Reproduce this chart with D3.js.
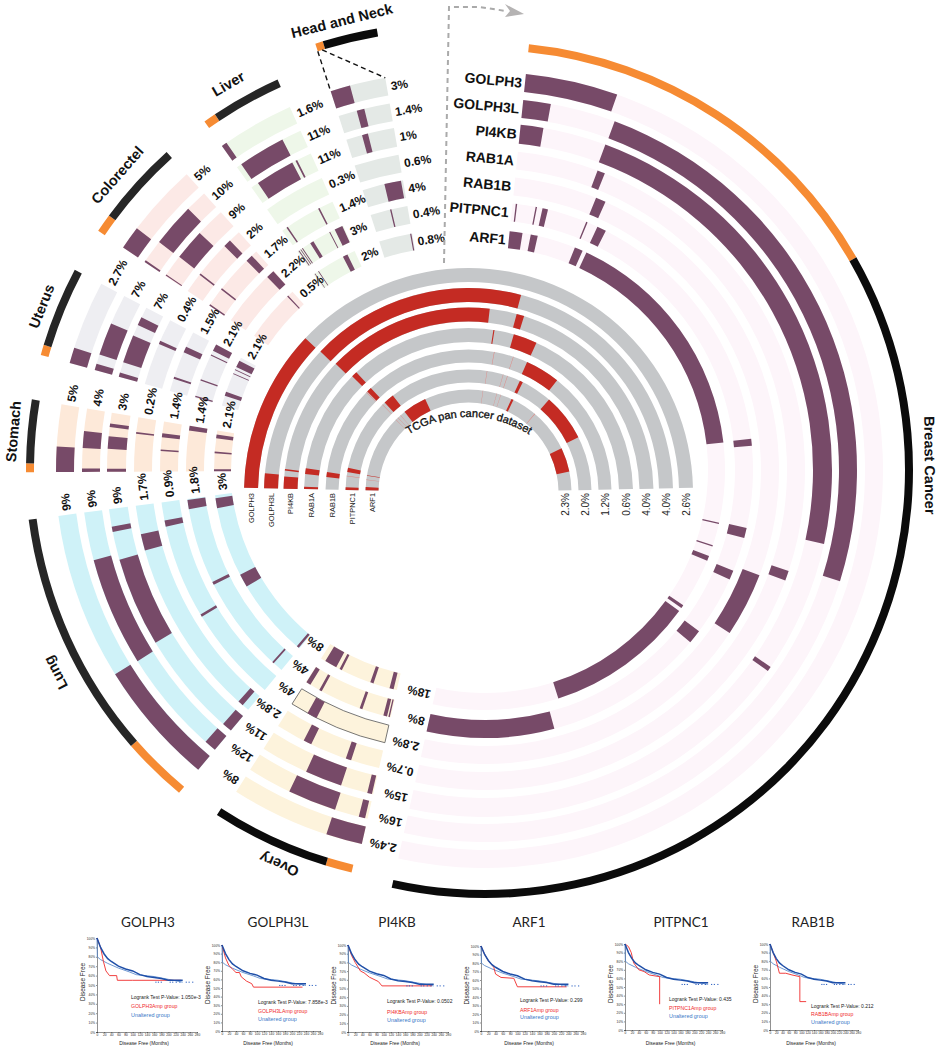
<!DOCTYPE html>
<html>
<head>
<meta charset="utf-8">
<title>Pan cancer amplification</title>
<script src="https://cdn.jsdelivr.net/npm/d3@7"></script>
<style>
  html, body { margin: 0; padding: 0; background: #fff; }
  text { font-family: "Liberation Sans", Arial, sans-serif; }
</style>
</head>
<body>
<div id="chart"></div>
<script>
const geneNames = ["GOLPH3", "GOLPH3L", "PI4KB", "RAB1A", "RAB1B", "PITPNC1", "ARF1"];
const cancerNames = ["Breast Cancer", "Overy", "Lung", "Stomach", "Uterus", "Colorectel", "Liver", "Head and Neck"];

// length of every cancer along its ring, and how much of that is the orange part
const sectorSpan = [186.7, 19.7, 42.7, 9.8, 12.3, 14, 11.3, 8.1];
const alteredShare = [54.3, 3.6, 9, 1.2, 1.4, 2.5, 1.7, 1];

// percent labels, outer track to inner track
const breastPct = ["2.4%", "16%", "15%", "0.7%", "2.8%", "8%", "18%"];
const ovaryPct = ["8%", "12%", "11%", "2.8%", "4%", "4%", "8%"];
const lungPct = ["9%", "9%", "9%", "1.7%", "0.9%", "1.8%", "3%"];
const stomachPct = ["5%", "4%", "3%", "0.2%", "1.4%", "1.4%", "2.1%"];
const uterusPct = ["2.7%", "7%", "7%", "0.4%", "1.5%", "2.1%", "2.1%"];
const colorectalPct = ["5%", "10%", "9%", "2%", "1.7%", "2.2%", "0.5%"];
const liverPct = ["1.6%", "11%", "11%", "0.3%", "1.4%", "3%", "2%"];
const headNeckPct = ["3%", "1.4%", "1%", "0.6%", "4%", "0.4%", "0.8%"];

// altered stretches [from, to] along each cancer, outer track to inner track
const breastSegments = [
  [[0, 13.5]],
  [[0, 4.3], [14.5, 101.5]],
  [[0, 3.8], [14.4, 96.4], [118.7, 119.5]],
  [[14.7, 16.1], [102.5, 104.3]],
  [[16.3, 18.3], [105.1, 117.8]],
  [[0.7, 1], [5, 5.3], [6.5, 7.7], [16.3, 16.6], [18.9, 20.9], [77.4, 78.9], [96.6, 98.8], [106.2, 108.2], [121.1, 124.1], [159.1, 186.7]],
  [[0, 3.1], [5.1, 6.8], [16.1, 18.1], [19.1, 77.5], [96.8, 97.1], [102.4, 102.7], [105.1, 106.3], [118.4, 119.2], [120.1, 156.3]]
];
const ovarySegments = [
  [[0, 5.3]],
  [[0.4, 1.4], [5.2, 12.8]],
  [[0.2, 1], [5.5, 11.7]],
  [[5.2, 6.2], [12.9, 14.4]],
  [[14.2, 16.2]],
  [[0.2, 0.5], [0.8, 1.6], [6.3, 6.9], [15.8, 16.4], [18.6, 19.6]],
  [[0.8, 1.8], [5.8, 6.6], [14, 14.6], [15.5, 18.5]]
];
const lungSegments = [
  [[0, 18.3]],
  [[0, 1.9], [18.2, 35.2]],
  [[0, 1.7], [19.2, 34.2], [38.9, 39.8]],
  [[1.3, 2.3], [34.5, 37.5]],
  [[18.9, 19.4], [37.9, 39.1]],
  [[2.2, 2.6], [23.4, 24.1], [40.5, 42.5]],
  [[0.2, 0.8], [19.5, 22.7], [39.6, 42]]
];
const stomachSegments = [
  [[0, 3.7]],
  [[0, 0.55], [3.7, 6.3]],
  [[0, 0.5], [3.8, 5.9], [7.4, 8]],
  [[6.8, 7.1]],
  [[4, 4.3], [6.7, 7.5]],
  [[8.8, 9.8]],
  [[0, 0.5], [4.3, 4.7], [7.9, 8.8]]
];
const uterusSegments = [
  [[0, 2.3]],
  [[0, 1], [2.5, 7.6]],
  [[0, 0.7], [2.5, 7.2], [9.1, 10.5]],
  [[7.6, 8.2]],
  [[2.5, 2.9], [8, 9.2]],
  [[0.2, 0.5], [3.9, 4.2], [9.7, 9.9], [10.8, 12.3]],
  [[2.4, 3.4], [8, 8.2], [9, 9.2], [9.8, 11.5]]
];
const colorectalSegments = [
  [[0, 3.4]],
  [[0, 0.3], [3.8, 10.6]],
  [[0.1, 0.3], [3.9, 9.1]],
  [[3.6, 3.9], [10.4, 11.8]],
  [[0, 0.3], [3.9, 4.2], [11.4, 12.8]],
  [[12.1, 13.9]],
  [[12.3, 12.6]]
];
const liverSegments = [
  [[0, 0.8]],
  [[0.8, 8.2]],
  [[1.3, 7.9], [8.5, 8.8]],
  [],
  [[1, 1.3], [8.2, 8.5]],
  [[0.3, 0.5], [0.8, 0.95], [1.2, 1.4], [3.3, 4.1], [8, 8.2], [9.3, 11.1]],
  [[0.3, 0.45], [1.3, 1.5], [8.2, 9.4]]
];
const headNeckSegments = [
  [[0, 2.9]],
  [[2.9, 4.1]],
  [[2.7, 3.7]],
  [],
  [[4.4, 7.7]],
  [[4.3, 4.6]],
  [[7.6, 7.9]]
];

// TCGA half rings: strong red stretches, then the pale hairlines
const panSpan = 177.6;
const panPct = ["2.6%", "4.0%", "4.0%", "0.6%", "1.2%", "2.0%", "2.3%"];
const panStrong = [
  [[0, 42.2]],
  [[0, 4.2], [42.4, 103.7]],
  [[0, 3.8], [5.6, 6.1], [42.9, 95.4], [103.9, 106.3]],
  [[0, 0.8], [5.3, 7.3], [43.8, 45.8], [97.5, 97.9], [104.8, 113.2]],
  [[5, 7], [43.7, 45.7], [113, 127.1]],
  [[0, 1.3], [8.4, 10.4], [45.8, 50.8], [113.5, 115], [129.7, 152.1]],
  [[0, 1.8], [8.2, 8.5], [50.4, 63.9], [113.5, 114.7], [153.4, 167.1]]
];
const panFaint = [
  [], [], [], [],
  [[43.2, 43.4], [99.1, 99.3], [107, 107.2]],
  [[6.4, 6.6], [44.3, 44.5], [97.4, 97.6], [105.1, 105.3], [107.2, 107.4]],
  [[5.8, 6], [43.8, 44], [45.4, 45.6], [47.3, 47.5], [96.8, 97], [104.7, 104.9], [107, 107.2], [128.8, 129.1]]
];

// survival panels
const panelGenes = ["GOLPH3", "GOLPH3L", "PI4KB", "ARF1", "PITPNC1", "RAB1B"];
const panelPValues = ["1.050e-3", "7.858e-3", "0.0502", "0.299", "0.435", "0.212"];
const unalteredMonths = [0, 5, 10, 20, 30, 40, 60, 80, 100, 120, 140, 160, 180, 200, 240];
const unalteredFree = [100, 95, 90, 83, 78, 75, 70, 67, 65, 61, 59, 58, 57, 55, 55];
const lowerMonths = [0, 1, 10, 30, 60, 90, 110, 160, 200, 240];
const lowerFree = [100, 80, 77, 73, 68, 64, 61, 59, 56, 53];
const censorMonths = [165, 172, 180, 205, 212, 222, 232, 250, 258, 268];
const ampMonths = [
  [0, 10, 18, 25, 35, 55, 57, 100, 235],
  [0, 10, 20, 30, 40, 50, 55, 70, 85, 90, 230],
  [0, 10, 20, 35, 45, 60, 85, 95, 235],
  [0, 10, 20, 35, 40, 55, 90, 100, 235],
  [0, 10, 18, 25, 40, 55, 70, 100, 100],
  [0, 10, 20, 30, 50, 70, 95, 95, 115]
];
const ampFree = [
  [100, 90, 75, 65, 60, 60, 55, 55, 55],
  [100, 85, 76, 72, 68, 68, 63, 58, 55, 51, 51],
  [100, 88, 80, 70, 68, 63, 58, 53, 53],
  [100, 90, 83, 75, 67, 63, 62, 52, 52],
  [100, 97, 90, 78, 70, 68, 64, 62, 30],
  [100, 90, 80, 66, 66, 64, 62, 33, 33]
];

// ---- layout, nothing below holds data ----
const trackRadii = [[380, 398], [354, 372], [328, 347], [302, 320], [276, 294], [250, 268], [223, 240]];
const panRadii = [[210.5, 224.5], [190.5, 204.5], [171, 185], [150.5, 164.5], [130, 143], [110, 123], [90, 103]];
const sectors = [
  { center: [485, 470], start: 5.9, bg: "#fdf5fa", pct: breastPct, segs: breastSegments, ringR: 424, ringShift: 0, nameR: 445, nameAt: 89.4, black: "#0b0b0b" },
  { center: [450, 456], start: 192.8, bg: "#fdf3dc", pct: ovaryPct, segs: ovarySegments, ringR: 424, ringShift: 0.5, nameR: 443, nameAt: 202.7, black: "#0b0b0b" },
  { center: [453, 464], start: 219.8, bg: "#cff2f8", pct: lungPct, segs: lungSegments, ringR: 424, ringShift: 0, nameR: 449, nameAt: 242.3, black: "#262626" },
  { center: [454, 470], start: 269.7, bg: "#fde9d9", pct: stomachPct, segs: stomachSegments, ringR: 424, ringShift: 0, nameR: 442.5, nameAt: 275, black: "#262626" },
  { center: [453, 470], start: 285.6, bg: "#eeeef2", pct: uterusPct, segs: uterusSegments, ringR: 424, ringShift: 0, nameR: 443, nameAt: 291.7, black: "#262626" },
  { center: [453, 470], start: 304, bg: "#fce9e6", pct: colorectalPct, segs: colorectalSegments, ringR: 424, ringShift: 0, nameR: 447, nameAt: 311.3, black: "#262626" },
  { center: [453, 470], start: 324.5, bg: "#eef7e9", pct: liverPct, segs: liverSegments, ringR: 424, ringShift: 0, nameR: 447, nameAt: 329.8, black: "#262626" },
  { center: [453, 470], start: 342.1, bg: "#e4e9e6", pct: headNeckPct, segs: headNeckSegments, ringR: 444, ringShift: 0, nameR: 463, nameAt: 346.1, black: "#0b0b0b" }
];
const panels = [
  { x: [97, 197], y: [1032, 938], legend: [131, 999, 1008, 1017] },
  { x: [222, 320], y: [1031, 945], legend: [258, 1004, 1013, 1021] },
  { x: [348, 448], y: [1032, 945], legend: [387, 1003, 1014, 1022] },
  { x: [481, 583], y: [1031, 946], legend: [520, 1002, 1012, 1019] },
  { x: [625, 722], y: [1030, 944], legend: [669, 1001, 1010, 1018] },
  { x: [770, 858], y: [1030, 944], legend: [811, 1008, 1016, 1024] }
];
const titleX = [148, 278, 397, 529, 681, 813];

const purple = "#774a68";
const orange = "#f68b33";
const rad = Math.PI / 180;

const svg = d3.select("#chart")
  .append("svg")
  .attr("width", 941)
  .attr("height", 1049)
  .style("display", "block");

function polar(center, r, deg) {
  return [center[0] + r * Math.sin(deg * rad), center[1] - r * Math.cos(deg * rad)];
}

function band(g, inner, outer, a0, a1, fill) {
  return g.append("path")
    .attr("d", d3.arc()({ innerRadius: inner, outerRadius: outer, startAngle: a0 * rad, endAngle: a1 * rad }))
    .attr("fill", fill);
}

function drawSector(s, i) {
  const g = svg.append("g").attr("transform", "translate(" + s.center + ")");
  const angle = d3.scaleLinear().domain([0, sectorSpan[i]]).range([s.start, s.start + sectorSpan[i]]);

  trackRadii.forEach((r, t) => {
    const bg = band(g, r[0], r[1], angle(0), angle(sectorSpan[i]), s.bg);
    if (i === 1 && t === 4) {
      // the boxed ovary track
      bg.attr("stroke", "#555").attr("stroke-width", 0.8);
    }
    s.segs[t].forEach(seg => band(g, r[0], r[1], angle(seg[0]), angle(seg[1]), purple));
  });

  // ring: orange part then black part
  band(g, s.ringR - 4, s.ringR + 4, angle(0) + s.ringShift, angle(alteredShare[i]) + s.ringShift, orange);
  band(g, s.ringR - 4, s.ringR + 4, angle(alteredShare[i]) + s.ringShift, angle(sectorSpan[i]) + s.ringShift, s.black);
}

// labels go on after every band so that no sector paints over them
function labelSector(s, i) {
  const g = svg.append("g").attr("transform", "translate(" + s.center + ")");
  trackRadii.forEach((r, t) => {
    const mid = (r[0] + r[1]) / 2;
    const at = s.start + sectorSpan[i] + 4 / mid / rad;
    const p = polar([0, 0], mid, at);
    g.append("text")
      .attr("transform", "translate(" + p + ") rotate(" + at + ")")
      .attr("dy", "0.36em")
      .attr("font-size", 12)
      .attr("font-weight", "bold")
      .attr("fill", "#111")
      .text(s.pct[t]);
  });

  const n = polar([0, 0], s.nameR, s.nameAt);
  g.append("text")
    .attr("transform", "translate(" + n + ") rotate(" + s.nameAt + ")")
    .attr("text-anchor", "middle")
    .attr("dy", "0.36em")
    .attr("font-size", 14.5)
    .attr("font-weight", "bold")
    .attr("fill", "#111")
    .text(cancerNames[i]);
}

sectors.forEach(drawSector);
sectors.forEach(labelSector);

// gene names at the start of the breast tracks
trackRadii.forEach((r, t) => {
  const mid = (r[0] + r[1]) / 2;
  const at = sectors[0].start - 3 / mid / rad;
  const p = polar(sectors[0].center, mid, at);
  svg.append("text")
    .attr("transform", "translate(" + p + ") rotate(" + at + ")")
    .attr("text-anchor", "end")
    .attr("dy", "0.36em")
    .attr("font-size", 14)
    .attr("font-weight", "bold")
    .attr("fill", "#111")
    .text(geneNames[t]);
});

// dashed lines from the head and neck ring to its tracks
const hn = sectors[7];
const dashed = svg.append("g").attr("fill", "none").attr("stroke", "#111").attr("stroke-width", 1.4).attr("stroke-dasharray", "5,3.5");
dashed.append("path").attr("d", d3.line()([polar(hn.center, 440, hn.start), polar(hn.center, 398, hn.start)]));
dashed.append("path").attr("d", d3.line()([polar(hn.center, 440, hn.start + 0.6), polar(hn.center, 398, hn.start + sectorSpan[7])]));

// grey arrow from the TCGA rings up to the breast ring
svg.append("path")
  .attr("d", d3.line()([[444, 263], [449, 7], [480, 7], [506, 11]]))
  .attr("fill", "none")
  .attr("stroke", "#aaa")
  .attr("stroke-width", 2)
  .attr("stroke-dasharray", "5,4");
svg.append("path")
  .attr("d", d3.line()([[505, 4], [524, 14], [505, 17], [510, 11]]) + "Z")
  .attr("fill", "#b5b3b3");

// TCGA half rings
const panCenter = [468.5, 492.5];
const panG = svg.append("g").attr("transform", "translate(" + panCenter + ")");
const panAngle = d3.scaleLinear().domain([0, panSpan]).range([-88.8, 88.8]);
panRadii.forEach((r, t) => {
  band(panG, r[0], r[1], panAngle(0), panAngle(panSpan), "#c5c7c9");
  panFaint[t].forEach(seg => band(panG, r[0], r[1], panAngle(seg[0]), panAngle(seg[1]), "#df8783"));
  panStrong[t].forEach(seg => band(panG, r[0], r[1], panAngle(seg[0]), panAngle(seg[1]), "#c42b23"));

  const mid = (r[0] + r[1]) / 2;
  panG.append("text")
    .attr("transform", "translate(" + (-mid) + ",0.5) rotate(-90)")
    .attr("text-anchor", "end")
    .attr("dy", "0.36em")
    .attr("font-size", 7.4)
    .attr("fill", "#222")
    .text(geneNames[t]);
  panG.append("text")
    .attr("transform", "translate(" + mid + ",0.5) rotate(-90)")
    .attr("text-anchor", "end")
    .attr("dy", "0.36em")
    .attr("font-size", 10)
    .attr("fill", "#222")
    .text(panPct[t]);
});

// curved title inside the rings, on a flatter circle than the rings
const titleCenter = [469, 529];
svg.append("defs").append("path")
  .attr("id", "panTitleArc")
  .attr("d", "M" + polar(titleCenter, 112, -45) + "A112,112 0 0 1 " + polar(titleCenter, 112, 45));
svg.append("text")
  .attr("font-size", 11)
  .attr("fill", "#111")
  .attr("stroke", "#111")
  .attr("stroke-width", 0.35)
  .append("textPath")
  .attr("href", "#panTitleArc")
  .attr("startOffset", "50%")
  .attr("text-anchor", "middle")
  .text("TCGA pan cancer dataset");

// survival panels
panels.forEach((p, i) => {
  const g = svg.append("g");
  const x = d3.scaleLinear().domain([0, 280]).range(p.x);
  const y = d3.scaleLinear().domain([0, 100]).range(p.y);

  g.append("text")
    .attr("x", titleX[i])
    .attr("y", 927)
    .attr("text-anchor", "middle")
    .attr("font-size", 13.5)
    .attr("fill", "#222")
    .style("font-family", "Lato")
    .text(panelGenes[i]);

  const xAxis = g.append("g")
    .attr("transform", "translate(0," + p.y[0] + ")")
    .call(d3.axisBottom(x).tickValues(d3.range(0, 281, 20)).tickSize(1).tickPadding(1));
  const yAxis = g.append("g")
    .attr("transform", "translate(" + p.x[0] + ",0)")
    .call(d3.axisLeft(y).tickValues(d3.range(0, 101, 10)).tickSize(1).tickPadding(1).tickFormat(d => d + "%"));
  [xAxis, yAxis].forEach(a => {
    a.selectAll("text").attr("font-size", 3.2).attr("fill", "#222");
    a.selectAll("path,line").attr("stroke", "#222").attr("stroke-width", 0.5);
  });

  const curve = d3.line().x(d => x(d[0])).y(d => y(d[1]));
  g.append("path")
    .attr("d", curve(d3.zip(lowerMonths, lowerFree)))
    .attr("fill", "none").attr("stroke", "#4a7fc8").attr("stroke-width", 0.8);
  g.append("path")
    .attr("d", curve(d3.zip(ampMonths[i], ampFree[i])))
    .attr("fill", "none").attr("stroke", "#ef2a2a").attr("stroke-width", 0.9);
  g.append("path")
    .attr("d", curve(d3.zip(unalteredMonths, unalteredFree)))
    .attr("fill", "none").attr("stroke", "#1f4fa8").attr("stroke-width", 1.5);
  g.selectAll(null)
    .data(censorMonths)
    .enter()
    .append("rect")
    .attr("x", d => x(d) - 0.6)
    .attr("y", y(53) - 0.5)
    .attr("width", 1.2)
    .attr("height", 1)
    .attr("fill", "#2a5fc0");

  g.append("text")
    .attr("x", (p.x[0] + p.x[1]) / 2 - 3)
    .attr("y", 1045)
    .attr("text-anchor", "middle")
    .attr("font-size", 4.9)
    .attr("fill", "#222")
    .text("Disease Free (Months)");
  g.append("text")
    .attr("transform", "translate(" + (p.x[0] - 12) + "," + ((p.y[0] + p.y[1]) / 2 - 3) + ") rotate(-90)")
    .attr("text-anchor", "middle")
    .attr("font-size", 6.4)
    .attr("fill", "#222")
    .text("Disease Free");

  const legendX = p.legend[0];
  g.append("text").attr("x", legendX).attr("y", p.legend[1]).attr("font-size", 5).attr("fill", "#222")
    .text("Logrank Test P-Value: " + panelPValues[i]);
  g.append("text").attr("x", legendX).attr("y", p.legend[2]).attr("font-size", 5.2).attr("fill", "#ef2a2a")
    .text(panelGenes[i] + "Amp group");
  g.append("text").attr("x", legendX).attr("y", p.legend[3]).attr("font-size", 5.4).attr("fill", "#3a78c8")
    .text("Unaltered group");
});
</script>
</body>
</html>
